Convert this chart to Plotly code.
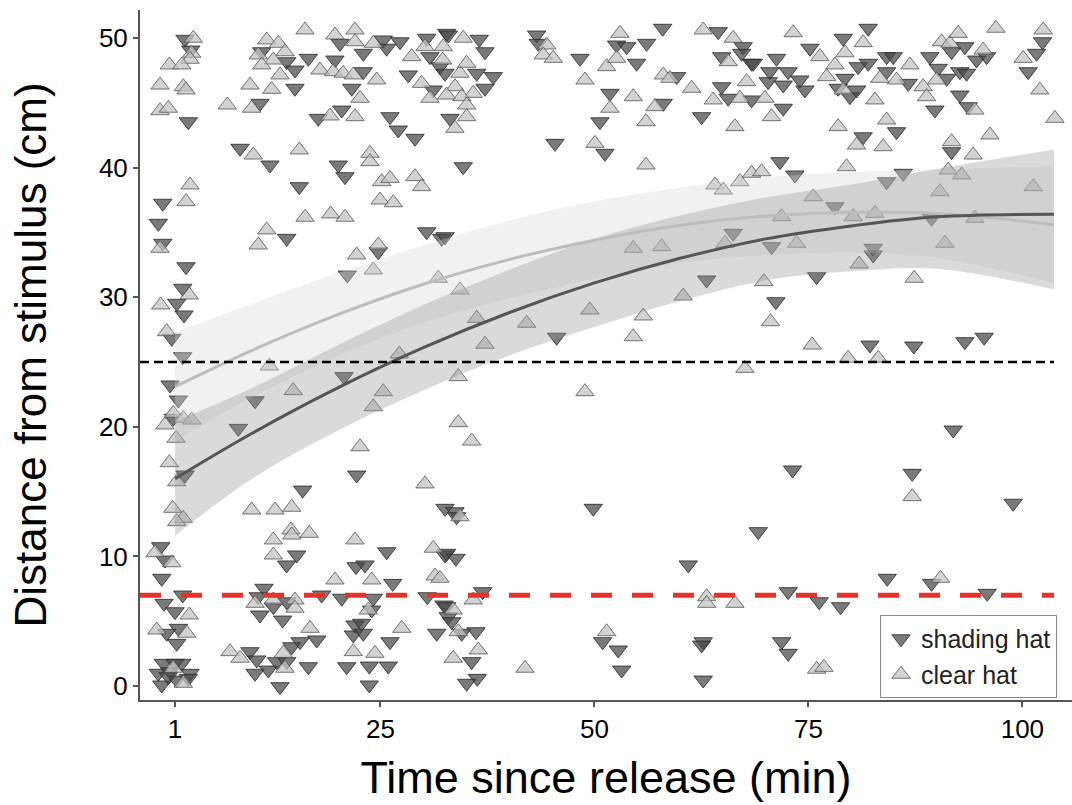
import plotly.graph_objects as go

# ---------------- data ----------------
shade_x = [2.16, 2.83, 2.55, -0.44, -0.96, -0.44, 11.12, 14.04, 15.01, 16.57, 15.01, 10.92, 17.73, 20.47,
           20.27, 19.68, 22.99, 22.99, 21.64, 25.33, 25.72, 27.28, 28.25, 30.40, 30.78, 31.95, 31.17, 32.73,
           26.11, 27.08, 29.03, 8.59, 12.09, 15.51, 20.07, 20.85, 14.04, 30.40, 32.15,
           32.92, 36.54, 37.21, 32.54, 36.24, 38.18, 37.21, 33.12, 34.67, 45.39, 43.25, 43.43, 48.31, 52.59,
           53.76, 56.10, 54.93, 51.81, 50.64, 51.23, 57.97, 59.60, 58.04, 62.52, 64.46, 67.38, 67.20, 64.86,
           68.36, 64.86, 65.63, 68.36, 66.21, 32.54,
           81.99, 79.07, 75.18, 71.28, 70.50, 68.55, 72.64, 74.00, 72.06, 79.27, 80.82, 81.99, 78.48, 79.85,
           80.63, 74.59, 70.30, 72.06, 84.14, 84.91, 84.14, 86.66, 89.19, 91.73, 93.28, 90.16, 91.15, 92.70,
           93.48, 89.78, 92.70, 93.67, 94.65, 95.82, 101.66, 100.68, 102.36, 85.30, 81.40, 91.73, 71.67,
           73.42, 86.08, 84.14, 78.10, 89.39, 70.70, 82.57,
           2.28, 24.74, 21.12, 1.89, 1.19, 2.04, 0.61, 1.89, 0.41, 1.38, 10.34, 20.74, 0.79, 8.39, 2.16, 22.22,
           63.11, 45.58,
           82.57, 75.96, 71.20, 82.19, 87.32, 93.28, 95.54, 91.92, 73.15, 87.13,
           15.91, 32.54, 15.21, 14.04, 25.72, 22.14, 23.19, 26.43, 32.54, -0.68, -0.18, -0.56, 1.89, -0.29,
           0.99, 11.39, 10.72, 10.92, 12.48, 14.04, 13.57, 18.13, 20.47, 24.16, 23.97, 22.02, 22.80, 21.82,
           22.99, 26.11, 30.47, 32.42, 32.92, 31.57, 0.02, 1.38, 1.19, 17.55, 9.75, 10.54, 10.34, 11.89, 13.26,
           12.87, 14.04, 14.63, 15.60, 16.57, 21.05, 23.69, 25.91, 23.69, -0.37, 0.99, 1.78, -0.96, 0.41,
           2.75, -0.56, 1.19, 2.55, 0.21,
           33.70, 33.90, 32.73, 33.82, 36.94, 32.73, 33.32, 34.49, 36.16, 35.65, 36.31, 35.07, 49.86, 50.96,
           52.78, 53.18, 60.96, 62.71, 62.52, 62.71, 69.14,
           98.92, 84.21, 89.39, 72.64, 95.89, 76.26, 78.76, 71.87, 72.64]
shade_y = [49.90, 49.07, 43.54, 37.25, 35.70, 34.16, 48.94, 48.17, 47.53, 48.43, 46.12, 44.96, 43.80, 44.44,
           49.59, 48.30, 48.82, 47.40, 46.12, 49.85, 49.21, 49.71, 47.15, 49.98, 48.56, 47.79, 45.99, 50.36,
           43.93, 42.90, 42.26, 41.49, 40.20, 38.53, 40.20, 39.30, 34.54, 35.05, 34.54,
           50.23, 49.90, 48.94, 47.28, 47.28, 47.02, 46.12, 43.80, 40.07, 41.87, 50.23, 49.59, 48.43, 49.46,
           49.33, 49.59, 48.05, 45.73, 43.54, 41.10, 50.75, 47.02, 44.96, 43.93, 50.49, 49.33, 48.82, 48.56,
           48.05, 46.24, 45.35, 45.22, 34.93, 34.67,
           50.75, 49.98, 49.21, 48.43, 47.40, 48.05, 47.40, 46.76, 46.37, 46.89, 47.79, 48.05, 46.12, 45.47,
           45.99, 45.99, 46.63, 44.58, 48.56, 48.56, 47.40, 46.50, 48.56, 48.94, 49.33, 47.66, 46.89, 47.40,
           47.28, 44.44, 45.60, 44.70, 48.30, 48.56, 48.82, 47.40, 49.71, 42.77, 42.38, 41.23, 40.46,
           39.43, 39.56, 38.91, 36.98, 36.09, 33.90, 33.77,
           32.35, 33.51, 31.71, 30.69, 29.53, 28.63, 26.83, 25.41, 23.23, 22.07, 22.01, 23.87, 20.66, 19.88,
           16.28, 16.28,
           31.33, 26.91,
           33.26, 31.58, 29.65, 26.31, 26.23, 26.57, 26.91, 19.75, 16.67, 16.41,
           15.12, 13.71, 10.11, 9.34, 10.36, 9.21, 9.34, 7.92, 10.11, 10.75, 9.72, 8.31, 7.02, 6.38,
           5.73, 7.54, 6.89, 5.48, 6.12, 6.50, 5.09, 7.02, 6.77, 6.77, 5.86, 4.71, 4.84, 3.94,
           4.07, 3.42, 6.89, 6.25, 5.35, 4.07, 4.07, 4.45, 3.29, 3.55, 2.65, 2.01, 0.98, 1.23, -0.05,
           1.88, 1.88, 3.03, 3.42, 1.49, 1.49, 1.54, 1.54, 0.08, 1.75, 1.75, 1.75, 0.98, 1.10,
           0.98, 0.08, 0.46, 0.59, 0.72,
           13.45, 13.06, 10.24, 9.85, 7.28, 6.12, 4.96, 4.07, 4.19, 1.88, 0.59, 0.21, 13.71, 3.42,
           2.78, 1.23, 9.34, 3.42, 3.16, 0.46, 11.91,
           14.10, 8.31, 7.92, 7.28, 7.15, 6.50, 6.12, 3.42, 2.52]

clear_x = [3.13, 2.94, 2.75, 0.33, 1.78, -0.76, 1.96, 2.28, -0.76, 0.21, 2.75, 2.28, 10.72, 11.71, 13.06,
           13.84, 12.48, 11.12, 13.26, 16.18, 17.93, 9.75, 12.29, 7.10, 9.95, 19.10, 22.02, 19.49, 19.68,
           22.02, 22.02, 20.65, 21.82, 22.61, 24.56, 24.16, 28.64, 30.20, 29.81, 30.78, 10.14, 15.51, 23.77,
           23.77, 25.14, 26.11, 29.03, 29.81, 24.94, 26.50, 16.18, 19.18, 20.85, 11.71, 10.72, 24.74,
           34.67, 32.34, 32.27, 34.29, 35.07, 35.84, 33.70, 32.73, 34.49, 35.07, 35.07, 33.70, 44.42, 44.02,
           45.19, 48.89, 51.43, 52.59, 52.98, 51.81, 54.53, 50.06, 56.02, 56.02, 58.04, 58.82, 57.07, 61.36,
           62.71, 66.21, 65.63, 63.88, 66.99, 67.78, 66.41, 64.08, 65.05, 66.99, 68.36, 54.53, 57.85, 65.25,
           73.22, 81.40, 79.27, 76.34, 77.13, 78.10, 79.07, 69.92, 70.70, 82.77, 83.35, 85.30, 86.86, 88.41,
           90.56, 91.53, 92.50, 89.98, 88.81, 94.45, 95.42, 96.90, 100.09, 102.43, 102.04, 103.80, 78.48,
           84.14, 80.63, 83.74, 91.73, 94.25, 96.21, 79.46, 91.33, 92.90, 90.36, 101.26, 69.53, 75.56, 71.87,
           80.23, 82.77, 94.45, 73.62, 90.95,
           -0.76, 22.22, 24.16, 31.75, 2.66, -0.68, 0.02, 12.01, 27.20, 14.81, 25.33, 24.16, 0.79, 1.96, 2.94,
           -0.18, 1.11, 22.61, 0.33,
           34.29, 60.37, 36.24, 42.08, 49.47, 55.70, 54.53, 37.21, 34.09, 67.58, 48.89, 34.09, 35.65,
           80.93, 69.80, 87.36, 70.58, 75.44, 79.65, 83.15,
           1.19, 30.20, 0.72, 1.96, 1.19, 9.95, 12.68, 14.63, 14.54, 14.63, 16.68, 12.48, 12.48, 22.02, 23.97,
           19.68, 31.17, 31.37, -1.34, 0.61, 2.66, 10.34, 12.48, 15.01, 15.01, 23.57, 21.82, 27.48, -1.14,
           2.36, 16.76, 7.42, 8.59, 13.64, 13.84, 24.36, 1.96, 0.79,
           34.29, 31.95, 35.84, 33.50, 34.09, 36.43, 33.50, 41.88, 51.43, 63.11, 63.11, 66.41,
           87.13, 90.44, 75.96, 76.81]
clear_y = [49.98, 48.82, 48.36, 47.92, 47.92, 46.37, 46.24, 45.99, 44.39, 44.58, 38.66, 37.37, 48.69, 49.85,
           49.59, 48.94, 48.30, 47.92, 47.15, 50.62, 47.53, 46.37, 46.04, 44.83, 44.58, 43.98, 43.93, 47.40,
           50.23, 50.62, 49.71, 47.28, 47.15, 45.35, 46.76, 49.59, 48.56, 49.33, 46.50, 45.35, 40.97, 41.36,
           41.10, 40.46, 38.91, 39.17, 39.30, 38.53, 37.50, 37.29, 36.17, 36.42, 36.17, 35.19, 34.03, 34.03,
           49.98, 49.33, 48.30, 47.28, 48.05, 45.73, 46.24, 45.60, 45.47, 44.83, 43.93, 43.03, 49.46, 48.69,
           48.43, 46.76, 47.79, 48.43, 50.36, 44.58, 45.47, 41.87, 43.54, 40.20, 47.15, 46.89, 44.70, 46.12,
           50.62, 49.98, 48.17, 45.22, 45.35, 46.63, 43.16, 38.66, 38.27, 38.91, 39.56, 33.77, 33.90, 34.16,
           50.41, 49.64, 48.86, 48.56, 47.02, 47.92, 45.99, 45.35, 43.93, 45.22, 46.89, 46.76, 47.92, 46.24,
           49.71, 49.59, 50.36, 46.76, 45.47, 44.44, 49.07, 50.75, 48.43, 50.62, 45.99, 43.80, 43.16,
           43.67, 41.74, 41.61, 42.00, 40.97, 42.52, 40.07, 39.81, 39.43, 38.14, 38.53, 39.68, 37.75, 36.21,
           36.21, 36.47, 36.09, 34.16, 34.16,
           33.77, 33.26, 32.10, 31.46, 30.17, 29.40, 27.34, 24.69, 25.62, 22.79, 22.71, 21.55, 21.04, 20.66,
           20.52, 20.14, 19.11, 18.46, 17.23,
           30.56, 30.09, 28.37, 27.99, 29.01, 28.55, 26.95, 26.37, 23.87, 24.51, 22.71, 20.32, 18.90,
           32.56, 31.20, 31.46, 28.11, 26.31, 25.29, 25.29,
           15.76, 15.59, 13.71, 12.94, 12.68, 13.58, 13.58, 13.79, 12.04, 11.65, 11.78, 11.27, 10.11, 11.27,
           8.18, 8.18, 10.63, 8.49, 10.29, 9.51, 5.48, 6.38, 6.64, 6.64, 6.00, 5.86, 2.65, 4.45, 4.32,
           4.07, 4.45, 2.65, 2.14, 2.52, 1.37, 2.52, 0.21, 1.37,
           13.06, 8.31, 6.64, 5.86, 4.19, 2.78, 2.14, 1.37, 4.19, 6.89, 6.38, 6.38,
           14.61, 8.31, 1.29, 1.44]

# fitted curves with confidence bands
fit_x = [1, 10, 20, 30, 40, 50, 60, 70, 80, 90, 103.7]
shade_fit = [16.0, 19.5, 23.0, 26.1, 28.8, 31.1, 33.0, 34.5, 35.5, 36.2, 36.4]
shade_lo = [11.6, 16.0, 19.7, 22.8, 25.5, 27.7, 29.7, 31.3, 32.0, 32.2, 30.6]
shade_hi = [20.4, 23.0, 26.3, 29.4, 32.1, 34.5, 36.3, 37.7, 38.7, 39.9, 41.4]
clear_fit = [23.1, 25.9, 28.65, 31.0, 32.9, 34.4, 35.55, 36.25, 36.55, 36.45, 35.6]
clear_lo = [18.9, 22.3, 25.45, 28.0, 29.9, 31.4, 32.65, 33.25, 33.45, 33.05, 31.1]
clear_hi = [27.3, 29.5, 31.85, 34.0, 35.9, 37.4, 38.45, 39.25, 39.65, 39.85, 40.1]

ref_black = 25
ref_red = 7
x_range = [-3.1, 105.8]
y_range = [-1.08, 52.16]
x_ticks = [1, 25, 50, 75, 100]
y_ticks = [0, 10, 20, 30, 40, 50]

FONT = "Liberation Sans, Arial, Helvetica, sans-serif"

fig = go.Figure()

fig.add_trace(go.Scatter(
    x=shade_x, y=shade_y, mode="markers", name="shading hat",
    marker=dict(symbol="triangle-down", size=16, color="rgba(70,70,70,0.72)",
                line=dict(color="rgba(40,40,40,0.8)", width=1))))
fig.add_trace(go.Scatter(
    x=clear_x, y=clear_y, mode="markers", name="clear hat",
    marker=dict(symbol="triangle-up", size=16, color="rgba(195,195,195,0.75)",
                line=dict(color="rgba(85,85,85,0.8)", width=1))))

# confidence bands
fig.add_trace(go.Scatter(x=fit_x, y=clear_lo, mode="lines", line=dict(width=0, shape="spline"),
                         showlegend=False, hoverinfo="skip"))
fig.add_trace(go.Scatter(x=fit_x, y=clear_hi, mode="lines", line=dict(width=0, shape="spline"),
                         fill="tonexty", fillcolor="rgba(215,215,215,0.35)",
                         showlegend=False, hoverinfo="skip"))
fig.add_trace(go.Scatter(x=fit_x, y=shade_lo, mode="lines", line=dict(width=0, shape="spline"),
                         showlegend=False, hoverinfo="skip"))
fig.add_trace(go.Scatter(x=fit_x, y=shade_hi, mode="lines", line=dict(width=0, shape="spline"),
                         fill="tonexty", fillcolor="rgba(150,150,150,0.35)",
                         showlegend=False, hoverinfo="skip"))

# fitted lines
fig.add_trace(go.Scatter(x=fit_x, y=clear_fit, mode="lines",
                         line=dict(color="#bdbdbd", width=3, shape="spline"),
                         showlegend=False, hoverinfo="skip"))
fig.add_trace(go.Scatter(x=fit_x, y=shade_fit, mode="lines",
                         line=dict(color="#555555", width=3, shape="spline"),
                         showlegend=False, hoverinfo="skip"))

# reference lines
fig.add_trace(go.Scatter(x=[x_range[0], fit_x[-1]], y=[ref_black, ref_black], mode="lines",
                         line=dict(color="black", width=2.5, dash="9px,5px"),
                         showlegend=False, hoverinfo="skip"))
fig.add_trace(go.Scatter(x=[x_range[0], fit_x[-1]], y=[ref_red, ref_red], mode="lines",
                         line=dict(color="#e63329", width=5, dash="21px,20px"),
                         showlegend=False, hoverinfo="skip"))

fig.update_layout(
    width=1072, height=805,
    margin=dict(l=140, r=0, t=10, b=105),
    plot_bgcolor="white", paper_bgcolor="white",
    font=dict(family=FONT, color="black"),
    legend=dict(x=0.794, y=0.1232, xanchor="left", yanchor="top",
                bordercolor="#8a8a8a", borderwidth=1, bgcolor="white",
                font=dict(size=25, family=FONT, color="#222"),
                traceorder="normal", tracegroupgap=0, itemwidth=30),
    showlegend=True,
)
fig.update_xaxes(range=x_range, tickvals=x_ticks, ticktext=[str(t) for t in x_ticks],
                 showgrid=False, zeroline=False, showline=True, linecolor="#555", linewidth=2,
                 ticks="outside", ticklen=5, tickcolor="#555", tickwidth=1.5,
                 tickfont=dict(size=26, family=FONT, color="black"),
                 title=dict(text="Time since release (min)", font=dict(size=45, family=FONT), standoff=18))
fig.update_yaxes(range=y_range, tickvals=y_ticks,
                 showgrid=False, zeroline=False, showline=True, linecolor="#555", linewidth=2,
                 ticks="outside", ticklen=5, tickcolor="#555", tickwidth=1.5,
                 tickfont=dict(size=26, family=FONT, color="black"),
                 title=dict(text="Distance from stimulus (cm)", font=dict(size=44, family=FONT), standoff=38))

fig.write_html("out.html", config={"displayModeBar": False},
               post_script="document.body.style.margin='0';")
